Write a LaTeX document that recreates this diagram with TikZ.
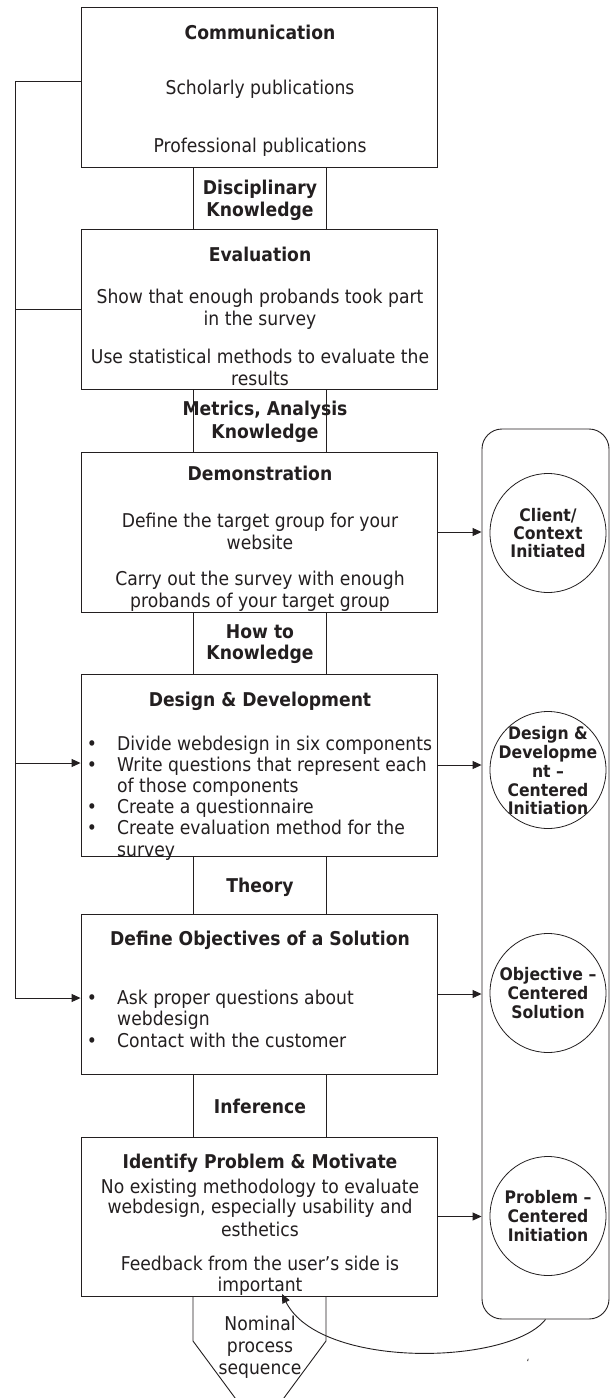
\documentclass[tikz,border=0pt]{standalone}
\usepackage{fontspec}
\setmainfont[FakeStretch=0.905]{DejaVu Sans}
\usetikzlibrary{arrows.meta,shapes.geometric,calc}
\definecolor{ink}{HTML}{231F20}
\begin{document}
\begin{tikzpicture}[x=1pt,y=-1pt,
  wire/.style={draw=ink, line width=0.9pt},
  arr/.style={wire, -{Triangle[length=9pt,width=8pt]}},
  box/.style={draw=ink, line width=0.9pt, minimum width=356pt, inner sep=0pt},
  reg/.style={text=ink, inner sep=0pt, anchor=base, font=\fontsize{19}{22}\selectfont},
  ttl/.style={text=ink, inner sep=0pt, anchor=base, font=\bfseries\fontsize{19}{22}\selectfont},
  ctx/.style={text=ink, inner sep=0pt, anchor=base, font=\bfseries\fontsize{17.3}{19}\selectfont},
  lft/.style={reg, anchor=base west},
  ell/.style={draw=ink, line width=0.8pt, ellipse, minimum width=116pt, minimum height=119pt, inner sep=0pt}]
\useasboundingbox (0,0) rectangle (610,1398);
\fill[white] (0,0) rectangle (610,1398);
\clip (0,0) rectangle (610,1398);

% main boxes
\node[box, minimum height=160pt] (comm) at (259,87) {};
\node[box, minimum height=160pt] (eval) at (259,309) {};
\node[box, minimum height=160pt] (demo) at (259,532) {};
\node[box, minimum height=182pt] (dd)   at (259,765) {};
\node[box, minimum height=160pt] (obj)  at (259,994) {};
\node[box, minimum height=159pt] (idp)  at (259,1216.5) {};

% knowledge channel
\coordinate (cL) at (193,0);
\coordinate (cR) at (326,0);
\foreach \a/\b in {comm/eval, eval/demo, demo/dd, dd/obj, obj/idp} {
  \draw[wire] (\a.south -| cL) -- (\b.north -| cL);
  \draw[wire] (\a.south -| cR) -- (\b.north -| cR);
}
\coordinate (chevL) at (193,1341);
\coordinate (chevR) at (326,1341);
\coordinate (chevT) at (259.5,1431);
\draw[wire] (idp.south -| cL) -- (chevL) -- (chevT) -- (chevR) -- (idp.south -| cR);

% entry points (right)
\node[draw=ink, line width=0.9pt, rounded corners=20pt, minimum width=127pt, minimum height=890pt, inner sep=0pt] (outer) at (545.5,874) {};
\node[ell] (c1) at (548,533) {};
\node[ell, minimum height=117pt] (c2) at (548,770) {};
\node[ell] (c3) at (548,993) {};
\node[ell] (c4) at (548,1216) {};

\foreach \b in {demo, dd, obj, idp} {
  \draw[arr] (\b.east) -- (\b.east -| outer.west);
}

% left feedback spine
\coordinate (spine) at (15,0);
\coordinate (objin) at ([yshift=-4pt]obj.west);
\coordinate (ddin) at ([yshift=2pt]dd.west);
\coordinate (sb) at (objin -| spine);
\draw[wire] ([yshift=6pt]comm.west) -| (sb);
\draw[arr] (sb) -- (objin);
\draw[wire] (eval.west) -- (eval.west -| spine);
\draw[arr] (ddin -| spine) -- (ddin);

% bottom feedback curve
\coordinate (fb) at (282,1294);
\draw[arr] (outer.south) .. controls (510,1365) and (320,1370) .. (fb);

% texts: Communication
\node[ttl] (tcomm) at (260,39) {Communication};
\node[reg] (tcomm1) at (260,94) {Scholarly publications};
\node[reg] (tcomm2) at (260,152) {Professional publications};
\node[ttl] (k1a) at (260,194) {Disciplinary};
\node[ttl] (k1b) at (260,216) {Knowledge};
% Evaluation
\node[ttl] (teval) at (260,261) {Evaluation};
\node[reg] (teval1) at (260,303) {Show that enough probands took part};
\node[reg] (teval2) at (260,325) {in the survey};
\node[reg] (teval3) at (260,363) {Use statistical methods to evaluate the};
\node[reg] (teval4) at (260,385) {results};
\node[ttl] (k2a) at (265,415) {Metrics, Analysis};
\node[ttl] (k2b) at (265,438) {Knowledge};
% Demonstration
\node[ttl] (tdemo) at (260,480) {Demonstration};
\node[reg] (tdemo1) at (260,527) {Define the target group for your};
\node[reg] (tdemo2) at (260,549) {website};
\node[reg] (tdemo3) at (260,585) {Carry out the survey with enough};
\node[reg] (tdemo4) at (260,607) {probands of your target group};
\node[ttl] (k3a) at (260,638) {How to};
\node[ttl] (k3b) at (260,659) {Knowledge};
% Design & Development
\node[ttl] (tdd) at (260,706) {Design \& Development};
\node[reg] (bdd1) at (92,750) {\textbullet};
\node[reg] (bdd2) at (92,771) {\textbullet};
\node[reg] (bdd3) at (92,813) {\textbullet};
\node[reg] (bdd4) at (92,834) {\textbullet};
\node[lft] (tdd1) at (117,750) {Divide webdesign in six components};
\node[lft] (tdd2) at (117,771) {Write questions that represent each};
\node[lft] (tdd3) at (117,792) {of those components};
\node[lft] (tdd4) at (117,813) {Create a questionnaire};
\node[lft] (tdd5) at (117,834) {Create evaluation method for the};
\node[lft] (tdd6) at (117,856) {survey};
\node[ttl] (k4) at (260,892) {Theory};
% Objectives
\node[ttl] (tobj) at (260,945) {Define Objectives of a Solution};
\node[reg] (bobj1) at (92,1004) {\textbullet};
\node[reg] (bobj2) at (92,1047) {\textbullet};
\node[lft] (tobj1) at (117,1004) {Ask proper questions about};
\node[lft] (tobj2) at (117,1025) {webdesign};
\node[lft] (tobj3) at (117,1047) {Contact with the customer};
\node[ttl] (k5) at (260,1113) {Inference};
% Identify
\node[ttl] (tidp) at (260,1168) {Identify Problem \& Motivate};
\node[reg] (tidp1) at (260,1193) {No existing methodology to evaluate};
\node[reg] (tidp2) at (260,1213) {webdesign, especially usability and};
\node[reg] (tidp3) at (260,1236) {esthetics};
\node[reg] (tidp4) at (260,1270) {Feedback from the user’s side is};
\node[reg] (tidp5) at (260,1291) {important};
\node[reg] (nom1) at (260,1330) {Nominal};
\node[reg] (nom2) at (260,1352) {process};
\node[reg] (nom3) at (260,1374) {sequence};

% circle texts
\node[ctx] (c1a) at (548,521.5) {Client/};
\node[ctx] (c1b) at (548,539) {Context};
\node[ctx] (c1c) at (548,557) {Initiated};
\node[ctx] (c2a) at (548,739) {Design \&};
\node[ctx] (c2b) at (548,758) {Developme};
\node[ctx] (c2c) at (548,777) {nt –};
\node[ctx] (c2d) at (548,796) {Centered};
\node[ctx] (c2e) at (548,814) {Initiation};
\node[ctx] (c3a) at (548,980) {Objective –};
\node[ctx] (c3b) at (548,999) {Centered};
\node[ctx] (c3c) at (548,1018) {Solution};
\node[ctx] (c4a) at (548,1203) {Problem –};
\node[ctx] (c4b) at (548,1222) {Centered};
\node[ctx] (c4c) at (548,1241) {Initiation};

\node[text=ink, inner sep=0pt, font=\fontsize{10}{10}\selectfont] (tick) at (528,1363) {\symbol{96}};
\end{tikzpicture}
\end{document}
